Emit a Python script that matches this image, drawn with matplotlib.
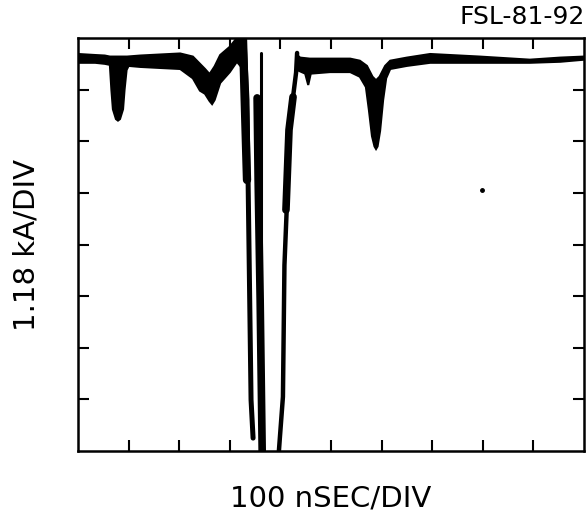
import numpy as np
import matplotlib
matplotlib.use("Agg")
import matplotlib.pyplot as plt

# screen is 10 x 8 divisions; trace values below are in divisions
X_DIVS = 10
Y_DIVS = 8

# trace before the main pulse (upper and lower edge of the blurred band)
left_top_x = [0, 0.34, 0.53, 0.63, 0.97, 1.23, 1.62, 2.02, 2.27, 2.41, 2.51,
              2.60, 2.70, 2.81, 3.00, 3.14, 3.26]
left_top_y = [7.69, 7.67, 7.66, 7.64, 7.64, 7.66, 7.68, 7.70, 7.64, 7.50, 7.40,
              7.30, 7.45, 7.67, 7.83, 8.0, 8.0]
left_bot_x = [0, 0.34, 0.53, 0.63, 0.66, 0.69, 0.75, 0.79, 0.83, 0.89, 0.92,
              0.96, 1.00, 1.23, 1.62, 2.02, 2.27, 2.41, 2.51, 2.60, 2.65,
              2.70, 2.81, 3.00, 3.14, 3.26]
left_bot_y = [7.52, 7.52, 7.50, 7.48, 7.00, 6.62, 6.43, 6.40, 6.43, 6.62, 7.00,
              7.38, 7.46, 7.44, 7.42, 7.40, 7.22, 6.98, 6.92, 6.78, 6.72,
              6.80, 7.13, 7.34, 7.54, 7.40]

# trace after the pulse
right_top_x = [4.33, 4.39, 4.58, 4.98, 5.38, 5.57, 5.71, 5.82, 5.89, 5.96,
               6.07, 6.17, 6.50, 6.96, 7.94, 8.93, 9.53, 10.0]
right_top_y = [7.67, 7.62, 7.60, 7.60, 7.60, 7.56, 7.46, 7.25, 7.18, 7.25,
               7.46, 7.56, 7.62, 7.69, 7.64, 7.58, 7.62, 7.64]
right_bot_x = [4.33, 4.49, 4.55, 4.60, 4.98, 5.38, 5.57, 5.69, 5.75, 5.81,
               5.86, 5.89, 5.92, 5.97, 6.03, 6.09, 6.17, 6.50, 6.96, 7.94,
               8.93, 9.53, 10.0]
right_bot_y = [7.38, 7.31, 7.09, 7.31, 7.34, 7.34, 7.25, 7.05, 6.60, 6.10,
               5.90, 5.85, 5.90, 6.20, 6.80, 7.22, 7.40, 7.46, 7.52, 7.52,
               7.52, 7.54, 7.58]

# near-vertical strokes of the fast pulse: (x, y, line width in points)
pulse_strokes = [
    ([3.28, 3.34, 3.38, 3.42, 3.46], [8.0, 6.80, 3.90, 0.99, 0.25], 3.6),
    ([3.26, 3.30, 3.34], [8.0, 6.61, 5.25], 6.0),
    ([3.62, 3.62], [7.71, 0.0], 2.2),
    ([3.54, 3.56, 3.60, 3.64], [6.84, 5.25, 2.93, 0.0], 5.5),
    ([4.33, 4.31, 4.25, 4.17, 4.13, 4.08, 4.05, 3.97],
     [7.71, 7.33, 6.86, 6.22, 4.81, 3.60, 1.05, 0.0], 3.2),
    ([4.25, 4.17, 4.11], [6.86, 6.22, 4.67], 5.5),
]

speck_x = [7.98]
speck_y = [5.06]

fig = plt.figure(figsize=(5.86, 5.23), dpi=100)
ax = fig.add_axes([78 / 586, 72 / 523, 506 / 586, 413 / 523])
ax.set_xlim(0, X_DIVS)
ax.set_ylim(0, Y_DIVS)

ax.fill(np.concatenate([left_top_x, left_bot_x[::-1]]),
        np.concatenate([left_top_y, left_bot_y[::-1]]),
        color="black", lw=1.5, zorder=3)
ax.fill(np.concatenate([right_top_x, right_bot_x[::-1]]),
        np.concatenate([right_top_y, right_bot_y[::-1]]),
        color="black", lw=1.5, zorder=3)
for xs, ys, lw in pulse_strokes:
    ax.plot(xs, ys, color="black", lw=lw, solid_capstyle="round", zorder=3)
ax.plot(speck_x, speck_y, "o", color="black", ms=2.5)

# graticule: ticks at every division, pointing in
ax.set_xticks(np.arange(1, X_DIVS))
ax.set_yticks(np.arange(1, Y_DIVS))
ax.tick_params(direction="in", length=8, width=1.5, colors="black",
               top=True, right=True, labelbottom=False, labelleft=False)
for s in ax.spines.values():
    s.set_linewidth(1.8)

fig.text(0.998, 0.967, "FSL-81-92", ha="right", va="center", fontsize=18)
fig.text(331 / 586, 0.046, "100 nSEC/DIV", ha="center", va="center", fontsize=21)
fig.text(0.046, 0.532, "1.18 kA/DIV", ha="center", va="center", rotation=90,
         fontsize=21)

fig.savefig("out.png", dpi=100)
